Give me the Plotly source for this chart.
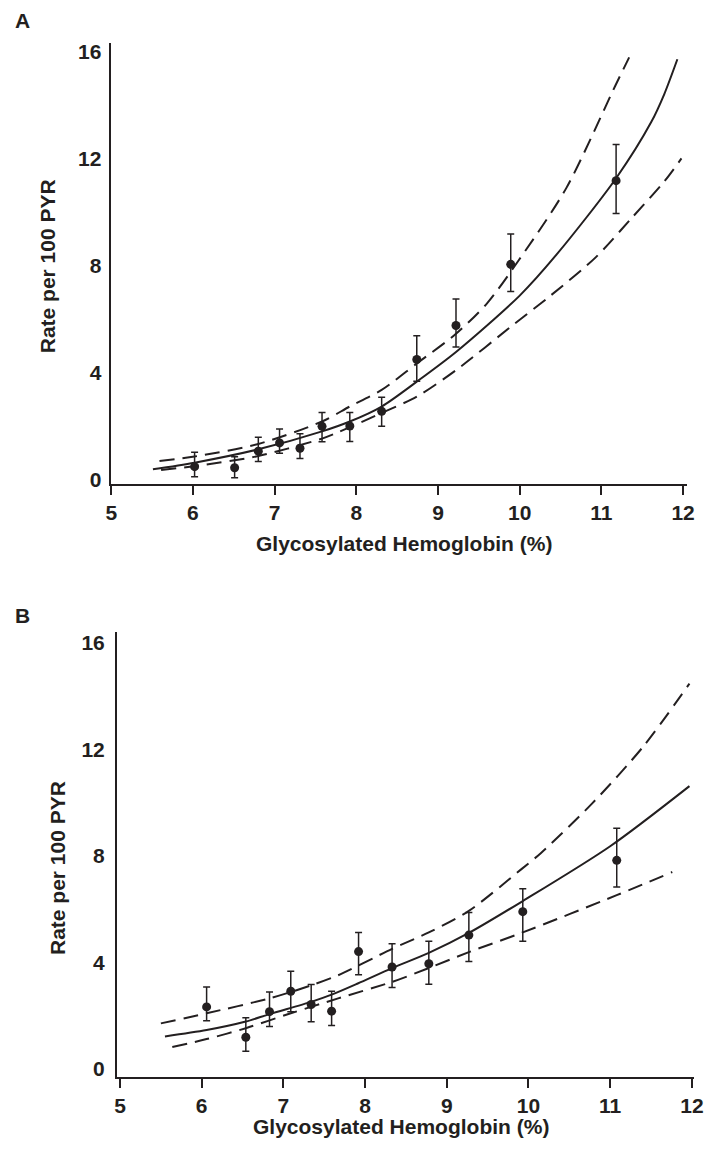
import plotly.graph_objects as go

# ---- Panel A: observed rates (per 100 person-years) by HbA1c category ----
a_hba1c = [6.02, 6.51, 6.80, 7.06, 7.31, 7.58, 7.92, 8.31, 8.74, 9.22, 9.89, 11.18]
a_rate = [0.47, 0.43, 1.05, 1.36, 1.16, 1.98, 1.99, 2.54, 4.48, 5.75, 8.04, 11.17]
a_ci_hi = [1.01, 0.84, 1.57, 1.88, 1.70, 2.50, 2.50, 3.07, 5.37, 6.74, 9.17, 12.52]
a_ci_lo = [0.09, 0.06, 0.66, 0.97, 0.78, 1.40, 1.41, 1.98, 3.67, 4.95, 7.02, 9.94]

# Panel A: fitted curve and its confidence band
a_fit_x = [5.51, 6.02, 6.80, 7.58, 7.92, 8.31, 8.74, 9.22, 10.00, 10.45, 11.18, 11.61, 11.77, 11.93]
a_fit_y = [0.37, 0.62, 1.12, 1.79, 2.16, 2.72, 3.65, 4.76, 6.87, 8.40, 11.26, 13.36, 14.41, 15.71]
a_up_x = [5.59, 6.02, 6.80, 7.58, 7.92, 8.31, 8.74, 9.22, 9.60, 9.99, 10.57, 11.17, 11.34]
a_up_y = [0.68, 0.85, 1.32, 2.16, 2.72, 3.34, 4.33, 5.44, 6.58, 8.20, 10.89, 14.72, 15.78]
a_lo_x = [5.61, 6.02, 6.80, 7.58, 7.78, 8.31, 8.74, 9.22, 9.93, 10.37, 10.93, 11.37, 11.77, 11.98]
a_lo_y = [0.35, 0.49, 0.87, 1.52, 1.76, 2.48, 3.09, 4.08, 5.80, 6.85, 8.30, 9.77, 11.14, 12.00]

# ---- Panel B ----
b_hba1c = [6.06, 6.54, 6.83, 7.09, 7.34, 7.59, 7.92, 8.33, 8.78, 9.27, 9.93, 11.08]
b_rate = [2.32, 1.18, 2.14, 2.91, 2.41, 2.16, 4.40, 3.82, 3.94, 5.02, 5.90, 7.83]
b_ci_hi = [3.07, 1.91, 2.88, 3.66, 3.16, 2.91, 5.12, 4.69, 4.79, 5.87, 6.76, 9.04]
b_ci_lo = [1.80, 0.65, 1.58, 2.14, 1.76, 1.62, 3.53, 3.05, 3.17, 4.03, 4.79, 6.83]

b_fit_x = [5.55, 6.06, 6.54, 6.83, 7.34, 7.59, 7.91, 8.33, 8.78, 9.27, 9.93, 11.00, 11.97]
b_fit_y = [1.21, 1.45, 1.77, 2.05, 2.51, 2.78, 3.20, 3.78, 4.35, 5.10, 6.30, 8.36, 10.62]
b_up_x = [5.50, 6.06, 6.83, 7.34, 7.67, 8.33, 8.78, 9.27, 9.91, 10.15, 10.78, 11.40, 11.97]
b_up_y = [1.70, 2.08, 2.64, 3.13, 3.51, 4.50, 5.12, 5.93, 7.49, 8.10, 9.97, 12.09, 14.47]
b_lo_x = [5.64, 6.06, 6.54, 7.09, 7.67, 8.33, 8.78, 9.27, 9.93, 11.08, 11.76]
b_lo_y = [0.81, 1.11, 1.52, 2.08, 2.64, 3.26, 3.78, 4.38, 5.12, 6.52, 7.39]

x_ticks = [5, 6, 7, 8, 9, 10, 11, 12]
y_ticks = [0, 4, 8, 12, 16]
x_title = "Glycosylated Hemoglobin (%)"
y_title = "Rate per 100 PYR"

INK = "#231f20"
FONT = "Liberation Sans"
W, H = 709, 1154


def px_x(p):
    return p / W


def px_y(p):
    return 1 - p / H


fig = go.Figure()


def add_panel(xa, ya, hx, rate, hi, lo, fx, fy, ux, uy, lx, ly):
    for cx, cy, dash in ((ux, uy, "15px,8px"), (lx, ly, "15px,8px"), (fx, fy, "solid")):
        fig.add_trace(go.Scatter(
            x=cx, y=cy, mode="lines", xaxis=xa, yaxis=ya, showlegend=False,
            line=dict(color=INK, width=2, dash=dash, shape="spline", smoothing=0.8),
            hoverinfo="skip"))
    fig.add_trace(go.Scatter(
        x=hx, y=rate, mode="markers", xaxis=xa, yaxis=ya, showlegend=False,
        marker=dict(color=INK, size=9),
        error_y=dict(type="data", symmetric=False,
                     array=[h - r for h, r in zip(hi, rate)],
                     arrayminus=[r - l for r, l in zip(rate, lo)],
                     color=INK, thickness=1.5, width=3.5)))


add_panel("x", "y", a_hba1c, a_rate, a_ci_hi, a_ci_lo,
          a_fit_x, a_fit_y, a_up_x, a_up_y, a_lo_x, a_lo_y)
add_panel("x2", "y2", b_hba1c, b_rate, b_ci_hi, b_ci_lo,
          b_fit_x, b_fit_y, b_up_x, b_up_y, b_lo_x, b_lo_y)

tick_font = dict(family=FONT, size=21, color=INK, weight="bold")
xaxis_common = dict(tickvals=x_ticks, ticks="outside", ticklen=9, tickwidth=1.5,
                    tickcolor=INK, showline=True, linecolor=INK, linewidth=1.5,
                    showgrid=False, zeroline=False, tickfont=tick_font)
yaxis_common = dict(tickvals=y_ticks, ticks="", showline=True, linecolor=INK,
                    linewidth=1.5, showgrid=False, zeroline=False,
                    tickfont=tick_font)

fig.update_layout(
    width=W, height=H, margin=dict(l=0, r=0, t=0, b=0),
    paper_bgcolor="white", plot_bgcolor="white",
    xaxis=dict(xaxis_common, domain=[px_x(107.7), px_x(696.9)], range=[5, 12.05],
               anchor="y"),
    yaxis=dict(yaxis_common, domain=[px_y(485), px_y(40)], range=[-0.186, 16.33],
               anchor="x", ticklabelstandoff=4),
    xaxis2=dict(xaxis_common, domain=[px_x(113.3), px_x(703.4)], range=[4.96, 12.02],
                anchor="y2"),
    yaxis2=dict(yaxis_common, domain=[px_y(1082.3), px_y(634.3)], range=[-0.31, 16.40],
                anchor="x2", ticklabelstandoff=6),
)

ann_font = dict(family=FONT, size=21, color=INK, weight="bold")
labels = [
    ("A", 7, 18, 0, "left", ann_font),
    ("B", 7, 617, 0, "left", ann_font),
    (x_title, 406.7, 544.3, 0, "center", ann_font),
    (x_title, 404, 1132.7, 0, "center", ann_font),
    (y_title, 43.3, 265, -90, "center", ann_font),
    (y_title, 53.3, 871.7, -90, "center", ann_font),
]
for text, x, y, ang, xanc, f in labels:
    fig.add_annotation(text=text, x=px_x(x), y=px_y(y), xref="paper", yref="paper",
                       xanchor=xanc, yanchor="middle", showarrow=False, textangle=ang,
                       font=f)

fig.write_html("out.html")
